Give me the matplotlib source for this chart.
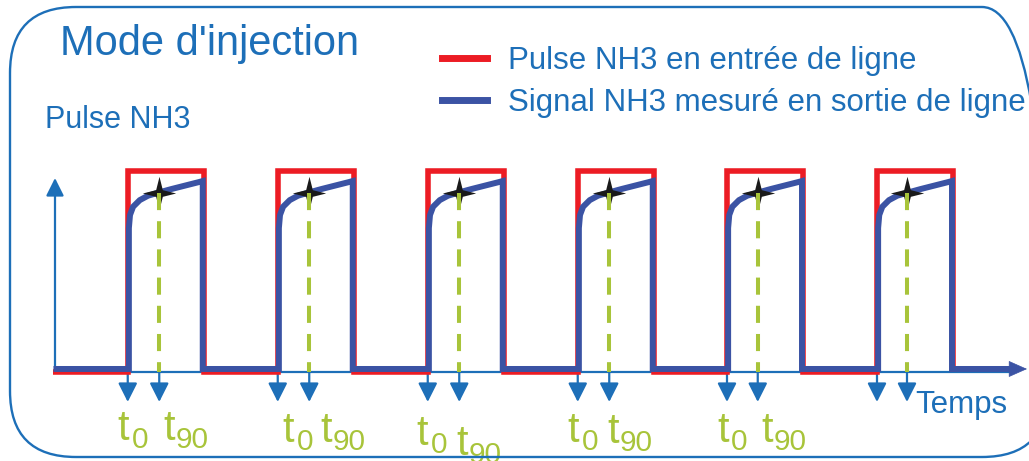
import matplotlib
matplotlib.use("Agg")
import matplotlib.pyplot as plt
from matplotlib.patches import FancyBboxPatch
from matplotlib.path import Path
from matplotlib.lines import Line2D

plt.rcParams['font.family'] = ['Liberation Sans', 'DejaVu Sans']

# ---------------- data ----------------
pulse_start = [0.97, 2.97, 4.97, 6.97, 8.96, 10.96]   # t0 of each pulse
pulse_duration = 1.013
pulse_high = 1.0
t90_marks = [1.39, 3.39, 5.39, 7.39, 9.37, 11.36]
star_level = 0.893
signal_base = 0.015
# measured outlet signal inside one pulse (time after t0, level)
response_dt = [0.015, 0.015, 0.03, 0.071, 0.16, 0.27, 0.404, 0.58, 0.76, 0.94, 1.0, 1.0]
response_level = [0.015, 0.716, 0.781, 0.822, 0.855, 0.877, 0.892, 0.91, 0.927, 0.944, 0.95, 0.015]
signal_begin = -0.02
signal_end = 12.75
axis_end = 12.96
yaxis_top = 0.965
arrow_tip = -0.149

title = "Mode d'injection"
legend_labels = ["Pulse NH3 en entrée de ligne", "Signal NH3 mesuré en sortie de ligne"]
ylabel = "Pulse NH3"
xlabel = "Temps"

# ---------------- styles ----------------
BLUE = '#1d6fb8'
NAVY = '#3b53a4'
RED = '#ec1c24'
GREEN = '#a8c43a'

fig = plt.figure(figsize=(10.29, 4.61), dpi=100)
ax = fig.add_axes([0, 0, 1, 1])
ax.set_xlim(-0.7333, 12.9867)
ax.set_ylim(-0.4428, 1.8507)
ax.axis('off')

# rounded frame (its right side runs past the picture edge)
frame = FancyBboxPatch((0.10, 0.04), 10.38, 4.50,
                       boxstyle='round,pad=0,rounding_size=0.66',
                       transform=fig.dpi_scale_trans, fill=False,
                       ec=BLUE, lw=1.7, clip_on=False)
fig.add_artist(frame)

# x axis thin line
ax.plot([0, axis_end - 0.2], [0, 0], color=BLUE, lw=1.6, zorder=1)

# y axis arrow
ax.annotate('', xy=(0, yaxis_top), xytext=(0, 0),
            arrowprops=dict(arrowstyle='-|>,head_length=1.08,head_width=0.54',
                            color=BLUE, lw=1.6, shrinkA=0, shrinkB=0,
                            mutation_scale=10), zorder=2)

# red inlet pulses
rx, ry = [signal_begin], [0]
for s in pulse_start:
    rx += [s, s, s + pulse_duration, s + pulse_duration]
    ry += [0, pulse_high, pulse_high, 0]
ax.plot(rx, ry, color=RED, lw=4.0, solid_joinstyle='miter',
        solid_capstyle='butt', zorder=3)

# blue outlet signal
bx, by = [signal_begin], [signal_base]
for s in pulse_start:
    for dt, lv in zip(response_dt, response_level):
        bx.append(s + dt)
        by.append(lv)
bx.append(signal_end)
by.append(signal_base)
ax.plot(bx, by, color=NAVY, lw=4.3, solid_joinstyle='miter',
        solid_capstyle='butt', zorder=4)
ax.annotate('', xy=(axis_end, signal_base), xytext=(signal_end - 0.05, signal_base),
            arrowprops=dict(arrowstyle='-|>,head_length=1.22,head_width=0.54',
                            color=NAVY, lw=0.5, shrinkA=0, shrinkB=0,
                            mutation_scale=10), zorder=4)

# stars at t90
star = Path([(0, 1), (0.2, 0.2), (1, 0), (0.2, -0.2), (0, -1),
             (-0.2, -0.2), (-1, 0), (-0.2, 0.2), (0, 1)])
ax.plot(t90_marks, [star_level] * len(t90_marks), ls='none', marker=star,
        ms=24, color='#1a1a1a', mew=0, zorder=5)

# dashed t90 lines
for t in t90_marks:
    ax.plot([t, t], [star_level, 0], color=GREEN, lw=2.9,
            dashes=(4.25, 2.75), dash_capstyle='butt', zorder=6)

# down arrows at t0 and t90
for t in pulse_start + t90_marks:
    ax.annotate('', xy=(t, arrow_tip), xytext=(t, 0),
                arrowprops=dict(arrowstyle='-|>,head_length=1.15,head_width=0.58',
                                color=BLUE, lw=1.6, shrinkA=0, shrinkB=0,
                                mutation_scale=10), zorder=2)

# t0 / t90 labels (pixel offsets: t0 dx, t0 dy, t90 dx, t90 dy)
label_offsets = [(-10, -68, 4, -68), (5, -70, 11, -70), (-11, -73, -3, -83),
                 (-10, -70, -2, -71), (-10, -70, 4, -70)]
for (t0, t9, off) in zip(pulse_start, t90_marks, label_offsets):
    for (tx, dx, dy, sub, subdx) in [(t0, off[0], off[1], '0', 14),
                                     (t9, off[2], off[3], '90', 12)]:
        ax.annotate('t', xy=(tx, 0), xytext=(dx, dy), textcoords='offset pixels',
                    fontsize=30, color=GREEN, ha='left', va='baseline')
        ax.annotate(sub, xy=(tx, 0), xytext=(dx + subdx, dy - 8),
                    textcoords='offset pixels',
                    fontsize=21.5, color=GREEN, ha='left', va='baseline')

# texts
W, H = 1029, 461
fig.text(60 / W, 1 - 55 / H, title, fontsize=30, color=BLUE,
         ha='left', va='baseline')
fig.text(45 / W, 1 - 128 / H, ylabel, fontsize=22, color=BLUE,
         ha='left', va='baseline')
fig.text(915 / W, 1 - 413 / H, xlabel, fontsize=22.5, color=BLUE,
         ha='left', va='baseline')

handles = [Line2D([], [], color=RED, lw=5), Line2D([], [], color=NAVY, lw=5)]
fig.legend(handles, legend_labels, loc='upper left',
           bbox_to_anchor=(442 / W, 1 - 46 / H), frameon=False, fontsize=22.5,
           handlelength=1.44, handletextpad=0.67, labelspacing=0.39,
           borderpad=0, borderaxespad=0, labelcolor=BLUE)

fig.savefig('out.png', dpi=100)
